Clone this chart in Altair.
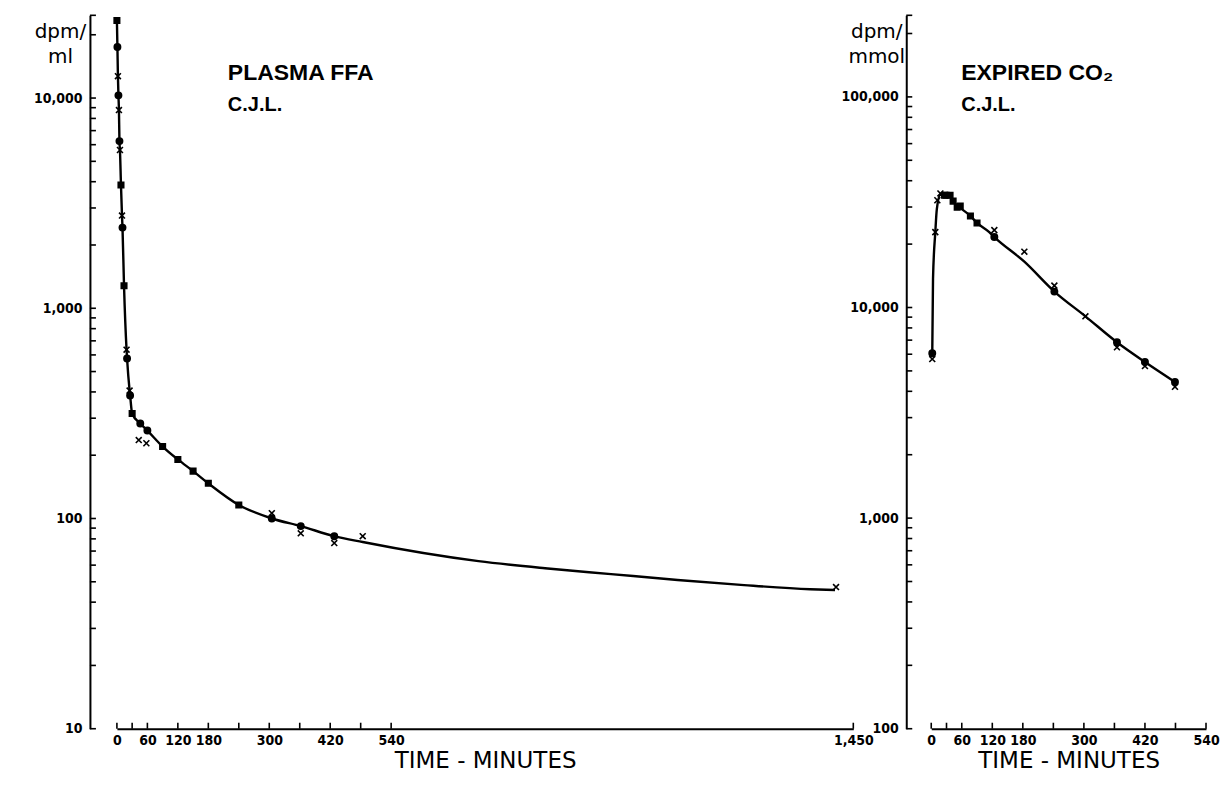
import altair as alt
import pandas as pd

# ---------------- Plasma FFA (left panel) ----------------
ffa_curve_t = [0, 1, 2, 3, 4, 5, 6, 8, 10, 11, 14, 19, 20, 25, 26, 30, 46, 60, 90, 120,
               150, 180, 240, 305, 362, 428, 484, 712, 843, 973, 1104, 1235, 1365, 1414]
ffa_curve_v = [23400, 17500, 12700, 10300, 8770, 6240, 5660, 3860, 2760, 2420, 1280, 635,
               577, 406, 385, 316, 283, 262, 220, 191, 168, 147, 116, 100, 92, 82.4, 77.3,
               62.7, 58.0, 54.4, 51.0, 48.2, 46.1, 45.7]

ffa_square_t = [0, 8, 14, 30, 90, 120, 150, 180, 240]
ffa_square_v = [23400, 3860, 1280, 316, 220, 191, 168, 147, 116]
ffa_cross_t = [2, 4, 6, 10, 19, 25, 43, 58, 305, 362, 428, 484, 1416]
ffa_cross_v = [12700, 8770, 5660, 2760, 635, 406, 236, 228, 106, 85, 76.4, 82.4, 47.2]
ffa_dot_t = [1, 3, 5, 11, 20, 26, 46, 60, 305, 362, 428]
ffa_dot_v = [17500, 10300, 6240, 2420, 577, 385, 283, 262, 100, 92, 82.4]

ffa_x_labels = [0, 60, 120, 180, 300, 420, 540, 1450]
ffa_x_ticks = [0, 30, 60, 120, 180, 240, 300, 360, 420, 480, 540, 1450]
ffa_y_labels = [10, 100, 1000, 10000]
ffa_y_ticks = [10, 20, 30, 40, 50, 60, 70, 80, 90, 100, 200, 300, 400, 500, 600, 700, 800,
               900, 1000, 2000, 3000, 4000, 5000, 6000, 7000, 8000, 9000, 10000, 20000, 24750]
ffa_x_domain = [0, 1450]
ffa_y_domain = [10, 24750]

# ---------------- Expired CO2 (right panel) ----------------
co2_curve_t = [2, 3.5, 8, 11, 18, 26, 37, 43, 55, 77, 90, 114, 124, 183, 242, 303, 365, 420, 479]
co2_curve_v = [6060, 13700, 22800, 29300, 34300, 34100, 34000, 32000, 30000, 27200, 25200,
               22800, 21600, 16500, 11900, 9080, 6840, 5510, 4430]

co2_square_t = [26, 29, 37, 43, 51, 57, 77, 90]
co2_square_v = [34100, 34100, 34100, 32000, 29900, 30300, 27200, 25200]
co2_cross_t = [2, 8, 12, 18, 124, 183, 242, 303, 365, 420, 479]
co2_cross_v = [5690, 22800, 32300, 34800, 23300, 18400, 12700, 9080, 6470, 5270, 4200]
co2_dot_t = [2, 124, 242, 365, 420, 479]
co2_dot_v = [6060, 21600, 11900, 6840, 5510, 4430]

co2_x_labels = [0, 60, 120, 180, 300, 420, 540]
co2_x_ticks = [0, 30, 60, 120, 180, 240, 300, 360, 420, 480, 540]
co2_y_labels = [100, 1000, 10000, 100000]
co2_y_ticks = [100, 200, 300, 400, 500, 600, 700, 800, 900, 1000, 2000, 3000, 4000, 5000,
               6000, 7000, 8000, 9000, 10000, 20000, 30000, 40000, 50000, 60000, 70000,
               80000, 90000, 100000, 200000, 244000]
co2_x_domain = [0, 540]
co2_y_domain = [100, 244000]

LABEL_FONT = "DejaVu Sans Condensed, Liberation Sans Narrow, DejaVu Sans, sans-serif"
TITLE_FONT = "DejaVu Sans, sans-serif"
HEAD_FONT = "Liberation Sans, Arial, sans-serif"
CROSS = "M-1,-1L1,1M-1,1L1,-1"
H = 714


def markers(ts_sq, vs_sq, ts_x, vs_x, ts_d, vs_d):
    rows = []
    for t, v in zip(ts_sq, vs_sq):
        rows.append({"t": t, "v": v, "kind": "square"})
    for t, v in zip(ts_x, vs_x):
        rows.append({"t": t, "v": v, "kind": "cross"})
    for t, v in zip(ts_d, vs_d):
        rows.append({"t": t, "v": v, "kind": "dot"})
    return pd.DataFrame(rows)


def panel(curve_t, curve_v, mk, x_domain, y_domain, x_labels, x_ticks, y_labels, y_ticks,
          width, y_offset, y_title, title, sub, title_dx):
    xs = alt.Scale(domain=x_domain, nice=False, zero=False)
    ys = alt.Scale(type="log", domain=y_domain, nice=False)

    x_axis = alt.Axis(values=x_labels, format=",.0f", ticks=False, grid=False,
                      domainColor="black", domainWidth=2, labelPadding=5,
                      labelFlush=False, labelOverlap=False, labelFont=LABEL_FONT,
                      labelFontSize=14, labelFontWeight="bold", labelColor="black",
                      title="TIME - MINUTES", titleFont=TITLE_FONT, titleFontSize=23,
                      titleFontWeight="normal", titleColor="black", titlePadding=2)
    y_axis = alt.Axis(values=y_labels, format=",.0f", ticks=False, grid=False,
                      domainColor="black", domainWidth=2, offset=y_offset,
                      labelPadding=8, labelFont=LABEL_FONT, labelFontSize=14,
                      labelFontWeight="bold", labelColor="black",
                      title=y_title, titleAngle=0, titleAlign="center",
                      titleBaseline="top", titleX=-30, titleY=6, titleFont=TITLE_FONT,
                      titleFontSize=20, titleFontWeight="normal", titleColor="black",
                      titleLineHeight=25)

    curve_df = pd.DataFrame({"t": curve_t, "v": curve_v})
    line = alt.Chart(curve_df).mark_line(
        interpolate="monotone", color="black", strokeWidth=2.4
    ).encode(
        x=alt.X("t:Q", scale=xs, axis=x_axis),
        y=alt.Y("v:Q", scale=ys, axis=y_axis),
    )

    pts = alt.Chart(mk).mark_point(
        filled=True, fill="black", stroke="black", strokeWidth=1.6, opacity=1
    ).encode(
        x=alt.X("t:Q", scale=xs),
        y=alt.Y("v:Q", scale=ys),
        shape=alt.Shape("kind:N", scale=alt.Scale(domain=["square", "cross", "dot"],
                                                  range=["square", CROSS, "circle"]),
                        legend=None),
        size=alt.Size("kind:N", scale=alt.Scale(domain=["square", "cross", "dot"],
                                                range=[30, 40, 6]),
                      legend=None),
    )

    ytk = alt.Chart(pd.DataFrame({"v": y_ticks})).mark_rule(
        color="black", strokeWidth=1.6
    ).encode(
        y=alt.Y("v:Q", scale=ys),
        x=alt.value(-y_offset),
        x2=alt.value(-y_offset + 6),
    )
    xtk = alt.Chart(pd.DataFrame({"t": x_ticks})).mark_rule(
        color="black", strokeWidth=1.6
    ).encode(
        x=alt.X("t:Q", scale=xs),
        y=alt.value(H),
        y2=alt.value(H - 6),
    )

    return alt.layer(line, pts, ytk, xtk).properties(
        width=width, height=H,
        title=alt.TitleParams(text=title, subtitle=sub, anchor="start", frame="group",
                              dx=title_dx, dy=101, offset=0, font=HEAD_FONT, fontSize=23,
                              fontWeight="bold", color="black", subtitleFont=HEAD_FONT,
                              subtitleFontSize=20, subtitleFontWeight="bold",
                              subtitleColor="black", subtitlePadding=10),
    )


left = panel(ffa_curve_t, ffa_curve_v,
             markers(ffa_square_t, ffa_square_v, ffa_cross_t, ffa_cross_v, ffa_dot_t, ffa_dot_v),
             ffa_x_domain, ffa_y_domain, ffa_x_labels, ffa_x_ticks, ffa_y_labels, ffa_y_ticks,
             737, 27, ["dpm/", "ml"], "PLASMA FFA", "C.J.L.", 111)
right = panel(co2_curve_t, co2_curve_v,
              markers(co2_square_t, co2_square_v, co2_cross_t, co2_cross_v, co2_dot_t, co2_dot_v),
              co2_x_domain, co2_y_domain, co2_x_labels, co2_x_ticks, co2_y_labels, co2_y_ticks,
              275, 25, ["dpm/", "mmol"], "EXPIRED CO₂", "C.J.L.", 30)

chart = alt.hconcat(left, right, spacing=78, bounds="flush").properties(
    padding={"left": 25, "top": 6, "right": 0, "bottom": 0},
    background="white",
).configure_view(stroke=None)

chart.save("out.html", embed_options={"renderer": "svg", "actions": False})
